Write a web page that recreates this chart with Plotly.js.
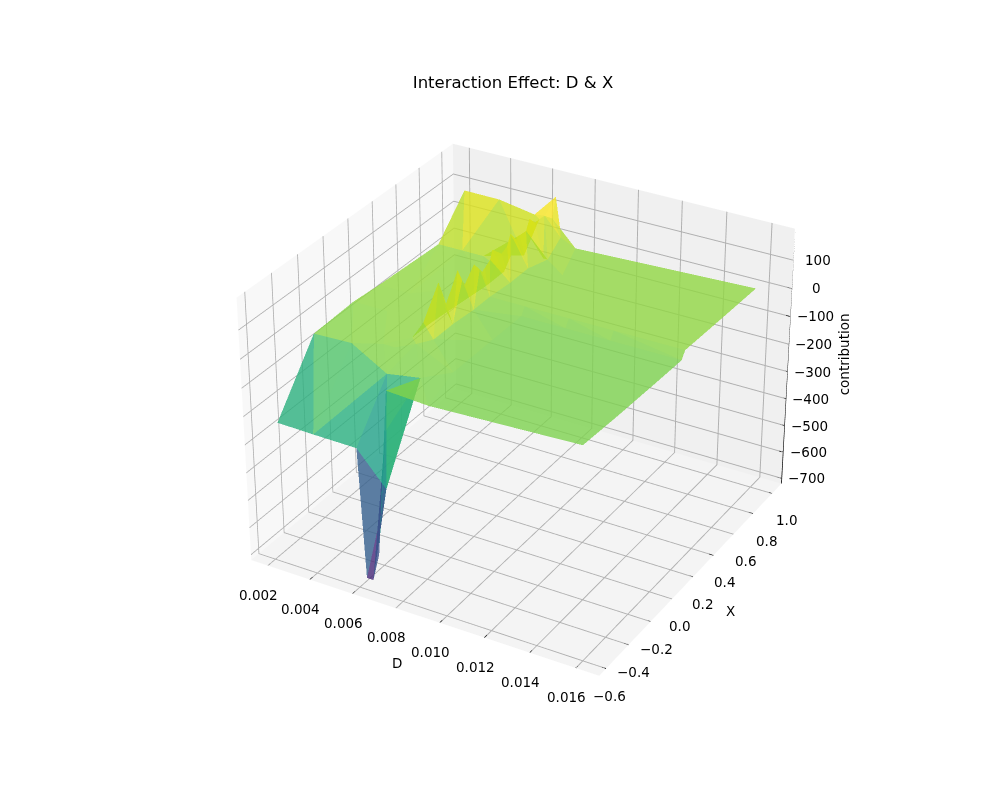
<!DOCTYPE html>
<html><head><meta charset="utf-8"><script src="https://cdn.plot.ly/plotly-3.0.1.min.js"></script>
<style>html,body{margin:0;background:#fff;overflow:hidden;width:1000px;height:800px}#plot{position:absolute;left:-978px;top:-805px;width:3000px;height:2400px}</style></head><body><div id="plot"></div>
<script>
// Sample points: each row of the three lists lines up.
const pointD = [
 0.0021,0.0038,0.0058,
 0.00225,0.0040,0.0057,
 0.00242,0.0040,0.0050,0.0053,
 0.00254,0.0040,0.0050,
 0.00286,0.0040,0.0050,
 0.00303,0.0045,0.0060,0.0071,
 0.0061,0.0064,0.0066,0.0067,0.0068,0.0072,0.0077,0.0063,0.0064,
 0.00635,0.0064,0.00645,0.00645,0.0065,0.0065,0.00655,0.00655,0.0066,0.0066,0.0066,0.00665,0.0067,0.0069,0.0070,
 0.0065,0.00655,0.0066,0.0066,0.00665,0.00665,0.0067,0.0067,0.0068,
 0.0060,0.0060,0.0061,0.0062,0.0063,0.0063,0.0064,
 0.0068,0.0068,0.0069,0.0069,0.0070,0.0070,0.0071,0.0074,0.0073,
 0.0078,
 0.0090,0.0110,0.0130,0.0154,
 0.0085,0.0105,0.0125,0.0155,
 0.0085,0.0105,0.0125,0.01558,
 0.0085,0.0105,0.0125,0.01562,
 0.0085,0.0105,0.0125,0.015626,
 0.0085,0.0105,0.0125,0.0157,
 0.0110,0.0130,0.01576
];
const pointX = [
 -0.55,-0.5555,-0.5586,
 -0.27,-0.27,-0.22,
 0.02,0.02,0.02,-0.24,
 0.21,0.21,0.21,
 0.66,0.66,0.66,
 0.8635,0.899,0.933,0.9545,
 -0.559,-0.559,-0.47,-0.5585,-0.50,-0.5552,-0.37,-0.39,-0.17,
 -0.10,0.02,0.06,0.17,0.22,0.30,0.36,0.45,0.52,0.60,0.68,0.76,0.84,0.9525,0.90,
 0.04,0.19,0.33,0.42,0.56,0.64,0.72,0.80,0.87,
 -0.13,0.02,0.17,0.30,0.45,0.60,0.76,
 -0.10,0.06,0.22,0.36,0.52,0.68,0.80,0.90,0.80,
 0.9604,
 -0.5428,-0.5298,-0.5165,-0.50,
 -0.25,-0.25,-0.25,-0.22,
 0.08,0.08,0.08,0.12,
 0.33,0.33,0.33,0.33,
 0.36,0.36,0.36,0.36,
 0.70,0.70,0.70,0.70,
 0.9846,0.9996,1.02
];
const pointZ = [
 -240,-240,-240,
 -20,-15,-10,
 0,0,0,0,
 0,0,0,
 10,10,10,
 145,130,95,60,
 -700,-700,-400,-600,-180,-10,-20,-30,0,
 50,150,50,145,80,125,80,130,95,140,110,145,120,170,110,
 100,105,100,105,110,110,115,120,125,
 0,0,0,0,0,0,10,
 0,0,0,0,0,0,0,50,0,
 0,
 -25,-25,-25,-25,
 -25,-25,-25,-25,
 -25,-25,-25,-25,
 -25,-25,-25,-25,
 0,0,0,0,
 0,0,0,0,
 0,0,0
];
const dTicks = [0.002,0.004,0.006,0.008,0.010,0.012,0.014,0.016];
const dTickLabels = ['0.002','0.004','0.006','0.008','0.010','0.012','0.014','0.016'];
const xTicks = [-0.6,-0.4,-0.2,0,0.2,0.4,0.6,0.8,1.0];
const xTickLabels = ['\u22120.6','\u22120.4','\u22120.2','0.0','0.2','0.4','0.6','0.8','1.0'];
const zTicks = [-700,-600,-500,-400,-300,-200,-100,0,100];
const zTickLabels = ['\u2212700','\u2212600','\u2212500','\u2212400','\u2212300','\u2212200','\u2212100','0','100'];
const dRange = [0.0012,0.0170], xRange = [-0.66,1.10], zRange = [-720,210];

// Delaunay triangulation on the normalised plane, as a trisurf does.
function delaunay(pts){
  const n=pts.length, P=pts.concat([[-20,-20],[40,-20],[0.5,50]]);
  let T=[[n,n+1,n+2]];
  const inC=(t,p)=>{const [a,b,c]=t.map(i=>P[i]);
    const ax=a[0]-p[0],ay=a[1]-p[1],bx=b[0]-p[0],by=b[1]-p[1],cx=c[0]-p[0],cy=c[1]-p[1];
    const det=(ax*ax+ay*ay)*(bx*cy-cx*by)-(bx*bx+by*by)*(ax*cy-cx*ay)+(cx*cx+cy*cy)*(ax*by-bx*ay);
    const o=(b[0]-a[0])*(c[1]-a[1])-(b[1]-a[1])*(c[0]-a[0]);
    return o>0?det>0:det<0;};
  for(let i=0;i<n;i++){
    const bad=T.filter(t=>inC(t,P[i])), keep=T.filter(t=>!inC(t,P[i])), edges={};
    bad.forEach(t=>{[[t[0],t[1]],[t[1],t[2]],[t[2],t[0]]].forEach(e=>{
      const k=Math.min(e[0],e[1])+'_'+Math.max(e[0],e[1]); edges[k]=edges[k]?null:e;});});
    Object.values(edges).forEach(e=>{if(e)keep.push([e[0],e[1],i]);});
    T=keep;
  }
  return T.filter(t=>t.every(i=>i<n));
}
const norm = pointD.map((d,i)=>[(d-dRange[0])/(dRange[1]-dRange[0]),(pointX[i]-xRange[0])/(xRange[1]-xRange[0])]);
const tris = delaunay(norm);
const faceMean = tris.map(t=>(pointZ[t[0]]+pointZ[t[1]]+pointZ[t[2]])/3);

const axisFont={family:'DejaVu Sans',size:13.5,color:'#000'};
function axis(range,vals,bg){
  return {title:{text:''},range:range,tickmode:'array',tickvals:vals,showticklabels:false,
    showbackground:true,backgroundcolor:bg,gridcolor:'#b0b0b0',gridwidth:2,zeroline:false,showspikes:false,
    showline:false,ticks:'',autorange:false};
}
// Axis edges and their tick marks, in data coordinates.
const dx=dRange[1]-dRange[0], xx=xRange[1]-xRange[0];
function seg(list,a,b){list.x.push(a[0],b[0],null);list.y.push(a[1],b[1],null);list.z.push(a[2],b[2],null);}
const edge={x:[],y:[],z:[]};
seg(edge,[dRange[0],xRange[0],zRange[0]],[dRange[1],xRange[0],zRange[0]]);
seg(edge,[dRange[1],xRange[0],zRange[0]],[dRange[1],xRange[1],zRange[0]]);
seg(edge,[dRange[1],xRange[1],zRange[0]],[dRange[1],xRange[1],zRange[1]]);
dTicks.forEach(v=>seg(edge,[v,xRange[0]-xx*0.012,zRange[0]],[v,xRange[0]+xx*0.012,zRange[0]]));
xTicks.forEach(v=>seg(edge,[dRange[1]-dx*0.012,v,zRange[0]],[dRange[1]+dx*0.012,v,zRange[0]]));
zTicks.forEach(v=>seg(edge,[dRange[1]-dx*0.012,xRange[1],v],[dRange[1]+dx*0.012,xRange[1],v]));

const annotations=[];
function label(x,y,z,text,ax,ay,extra){annotations.push(Object.assign({x:x,y:y,z:z,text:text,showarrow:false,xshift:ax,yshift:ay,font:axisFont},extra||{}));}
dTicks.forEach((v,i)=>label(v,xRange[0],zRange[0],dTickLabels[i],-9,-29));
xTicks.forEach((v,i)=>label(dRange[1],v,zRange[0],xTickLabels[i],5+(v+0.4)*7,-27));
zTicks.forEach((v,i)=>label(dRange[1],xRange[1],v,zTickLabels[i],25,0));
label((dRange[0]+dRange[1])/2,xRange[0],zRange[0],'D',-23,-47);
label(dRange[1],(xRange[0]+xRange[1])/2,zRange[0],'X',35,-36);
label(dRange[1],xRange[1],(zRange[0]+zRange[1])/2,'contribution',56,5,{textangle:-90});

Plotly.newPlot('plot',[{type:'mesh3d',x:pointD,y:pointX,z:pointZ,
  i:tris.map(t=>t[0]),j:tris.map(t=>t[1]),k:tris.map(t=>t[2]),
  intensity:faceMean,intensitymode:'cell',colorscale:'Viridis',cmin:-700,cmax:140,showscale:false,opacity:0.8,
  flatshading:true,hoverinfo:'skip',
  lighting:{ambient:1,diffuse:0,specular:0,roughness:1,fresnel:0}},
  {type:'scatter3d',mode:'lines',x:edge.x,y:edge.y,z:edge.z,line:{color:'#000',width:1.5},hoverinfo:'skip',connectgaps:false}],
 {width:3000,height:2400,paper_bgcolor:'#fff',showlegend:false,margin:{l:0,r:0,t:0,b:0},
  title:{text:'Interaction Effect: D & X',font:{family:'DejaVu Sans',size:16.5,color:'#000'},x:0.497,xanchor:'center',y:0.6304,yanchor:'middle'},
  scene:{domain:{x:[0,1],y:[0,1]},aspectmode:'manual',aspectratio:{x:1,y:1,z:0.75},
    camera:{eye:{x:3.15,y:-5.46,z:3.64},center:{x:0,y:0,z:0},up:{x:0,y:0,z:1},projection:{type:'perspective'}},
    xaxis:axis(dRange,dTicks,'#f8f8f8'),
    yaxis:axis(xRange,xTicks,'#f0f0f0'),
    zaxis:axis(zRange,zTicks,'#f4f4f4'),
    annotations:annotations}},
 {displayModeBar:false});
</script></body></html>
